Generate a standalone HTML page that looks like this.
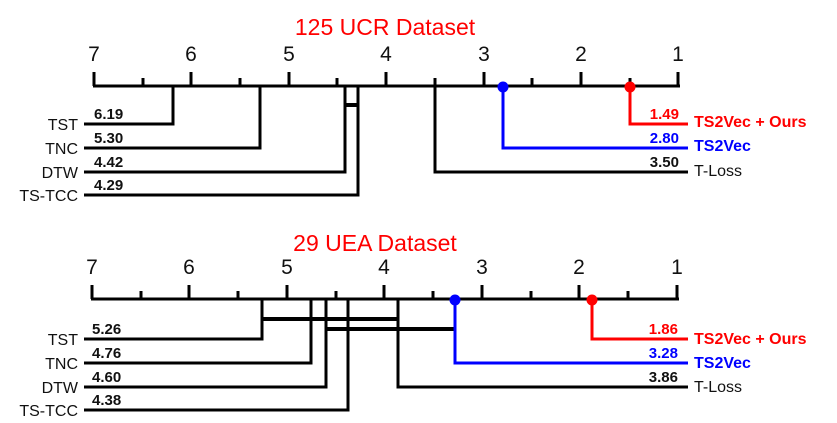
<!DOCTYPE html>
<html><head><style>body{margin:0;background:#fff}svg{display:block}text{font-family:"Liberation Sans",sans-serif}</style></head><body>
<svg width="837" height="423" viewBox="0 0 837 423" xmlns="http://www.w3.org/2000/svg">
<g>
<text x="385" y="35" font-size="23" fill="#f00" text-anchor="middle">125 UCR Dataset</text>
<g font-size="21" fill="#111" text-anchor="middle" style="font-family:'DejaVu Sans',sans-serif">
<text x="94" y="61">7</text><text x="191" y="61">6</text><text x="289" y="61">5</text><text x="386" y="61">4</text><text x="484" y="61">3</text><text x="581" y="61">2</text><text x="678" y="61">1</text></g>
<g stroke="#000" stroke-width="3" fill="none">
<line x1="93" y1="86" x2="680" y2="86"/>
<path d="M94 86V72M191 86V72M289 86V72M386 86V72M484 86V72M581 86V72M678 86V72M143 86V78M240 86V78M337 86V78M435 86V78M532 86V78M630 86V78"/>
<path d="M84 124H173V86M84 148H260V86M84 172H345V86M84 195H358V86M435 86V172H688"/>
<line x1="345" y1="105" x2="358" y2="105" stroke-width="4"/>
<path d="M630 86V124H688" stroke="#f00"/>
<path d="M503 86V148H688" stroke="#00f"/>
</g>
<circle cx="630" cy="87" r="5.5" fill="#f00"/><circle cx="503" cy="87" r="5.5" fill="#00f"/>
<g font-size="16" fill="#111" text-anchor="end"><text x="78" y="130">TST</text><text x="78" y="154">TNC</text><text x="78" y="178">DTW</text><text x="78" y="201">TS-TCC</text></g>
<g font-size="15" font-weight="bold" fill="#111"><text x="94" y="119">6.19</text><text x="94" y="143">5.30</text><text x="94" y="167">4.42</text><text x="94" y="190">4.29</text></g>
<g font-size="15" font-weight="bold" text-anchor="end"><text x="679" y="119" fill="#f00">1.49</text><text x="679" y="143" fill="#00f">2.80</text><text x="679" y="167" fill="#111">3.50</text></g>
<g font-size="16"><text x="694" y="127" fill="#f00" font-weight="bold">TS2Vec + Ours</text><text x="694" y="151" fill="#00f" font-weight="bold">TS2Vec</text><text x="694" y="176" fill="#111">T-Loss</text></g>
</g>
<g>
<text x="375" y="251" font-size="23" fill="#f00" text-anchor="middle">29 UEA Dataset</text>
<g font-size="21" fill="#111" text-anchor="middle" style="font-family:'DejaVu Sans',sans-serif">
<text x="92" y="274">7</text><text x="189" y="274">6</text><text x="287" y="274">5</text><text x="384" y="274">4</text><text x="482" y="274">3</text><text x="579" y="274">2</text><text x="677" y="274">1</text></g>
<g stroke="#000" stroke-width="3" fill="none">
<line x1="91" y1="299" x2="679" y2="299"/>
<path d="M92 299V285M189 299V285M287 299V285M384 299V285M482 299V285M579 299V285M677 299V285M141 299V291M238 299V291M336 299V291M433 299V291M531 299V291M628 299V291"/>
<path d="M84 339H262V299M84 363H311V299M84 387H326V299M84 410H348V299M398 299V387H688"/>
<line x1="261" y1="319" x2="398" y2="319" stroke-width="4"/>
<line x1="326" y1="329" x2="455" y2="329" stroke-width="4"/>
<path d="M592 299V339H688" stroke="#f00"/>
<path d="M455 299V363H688" stroke="#00f"/>
</g>
<circle cx="592" cy="300" r="5.5" fill="#f00"/><circle cx="455" cy="300" r="5.5" fill="#00f"/>
<g font-size="16" fill="#111" text-anchor="end"><text x="78" y="345">TST</text><text x="78" y="369">TNC</text><text x="78" y="393">DTW</text><text x="78" y="416">TS-TCC</text></g>
<g font-size="15" font-weight="bold" fill="#111"><text x="92" y="334">5.26</text><text x="92" y="358">4.76</text><text x="92" y="382">4.60</text><text x="92" y="405">4.38</text></g>
<g font-size="15" font-weight="bold" text-anchor="end"><text x="678" y="334" fill="#f00">1.86</text><text x="678" y="358" fill="#00f">3.28</text><text x="678" y="382" fill="#111">3.86</text></g>
<g font-size="16"><text x="694" y="344" fill="#f00" font-weight="bold">TS2Vec + Ours</text><text x="694" y="368" fill="#00f" font-weight="bold">TS2Vec</text><text x="694" y="392" fill="#111">T-Loss</text></g>
</g>
</svg>
</body></html>
